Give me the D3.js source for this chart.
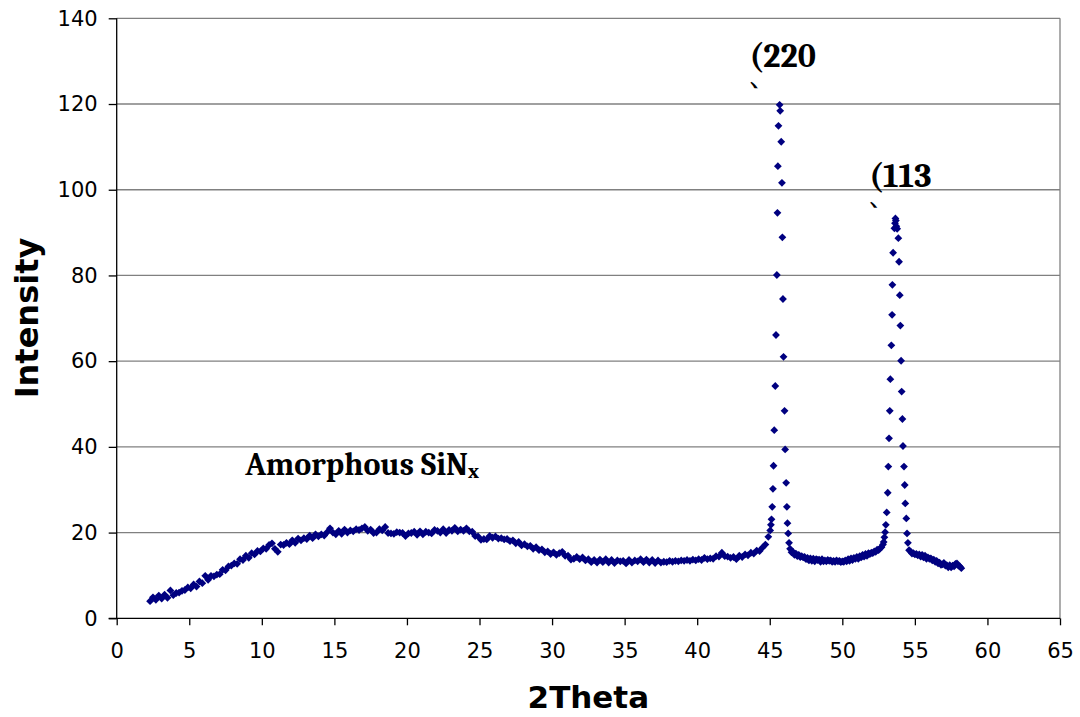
<!DOCTYPE html>
<html>
<head>
<meta charset="utf-8">
<script src="https://cdn.jsdelivr.net/npm/d3@7"></script>
<style>
    body { margin: 0; background: #fff; }
    text { font-family: Verdana, 'DejaVu Sans', sans-serif; }
    .serif { font-family: Cambria, Caladea, 'DejaVu Serif', serif; font-weight: bold; }
</style>
</head>
<body>
<div class="chart"></div>
<script>
// XRD scan
let xTicks = [0, 5, 10, 15, 20, 25, 30, 35, 40, 45, 50, 55, 60, 65];
let yTicks = [0, 20, 40, 60, 80, 100, 120, 140];

// broad amorphous part, 2Theta 2.3 .. 44.9, 0.2 deg step
let lowStart = 2.3, lowStep = 0.2;
let lowIntensity = [
    4.0, 4.9, 4.3, 5.3, 4.6, 5.5, 4.8, 6.5, 5.4, 5.9,
    6.0, 6.4, 6.6, 7.2, 7.0, 7.9, 7.4, 8.6, 8.2, 9.9,
    9.0, 9.9, 9.8, 10.2, 10.3, 11.3, 11.2, 12.1, 12.3, 12.8,
    12.7, 13.8, 13.6, 14.6, 14.1, 15.2, 14.9, 15.7, 15.6, 16.3,
    16.2, 17.1, 17.5, 16.2, 15.5, 17.2, 17.1, 17.6, 17.3, 18.2,
    17.6, 18.6, 18.2, 18.7, 18.5, 19.3, 18.7, 19.6, 19.1, 19.6,
    19.3, 20.1, 21.0, 20.0, 19.6, 20.4, 19.7, 20.7, 20.0, 20.5,
    20.3, 20.8, 20.6, 21.0, 21.3, 20.4, 20.7, 19.9, 20.0, 20.8,
    20.5, 21.3, 19.9, 19.8, 19.7, 20.1, 20.0, 19.9, 19.2, 19.8,
    19.9, 20.2, 19.5, 20.3, 19.6, 20.2, 20.0, 19.8, 20.6, 20.4,
    20.0, 20.8, 19.9, 20.6, 20.4, 21.1, 20.3, 20.7, 20.4, 21.0,
    20.3, 20.2, 19.2, 19.1, 18.3, 18.5, 18.4, 19.2, 18.8, 19.1,
    18.6, 18.7, 18.4, 18.5, 18.0, 18.2, 17.5, 17.8, 17.0, 17.3,
    16.8, 16.9, 16.2, 16.6, 15.9, 16.1, 15.4, 15.6, 15.0, 15.4,
    14.8, 15.2, 15.5, 14.6, 14.6, 13.7, 13.9, 14.3, 13.8, 14.2,
    13.5, 13.8, 13.1, 13.6, 13.0, 13.7, 13.1, 13.8, 13.0, 13.6,
    12.9, 13.5, 13.3, 13.4, 12.8, 13.6, 13.0, 13.5, 13.3, 13.8,
    13.1, 13.7, 13.0, 13.6, 12.9, 13.5, 13.0, 13.2, 13.1, 13.4,
    13.2, 13.4, 13.3, 13.5, 13.4, 13.6, 13.4, 13.7, 13.5, 13.8,
    13.6, 14.1, 13.8, 14.0, 13.9, 14.5, 14.4, 15.3, 14.5, 14.4,
    14.1, 14.3, 13.8, 14.6, 14.3, 14.9, 14.7, 15.3, 15.1, 15.8,
    15.7, 16.5, 17.2, 19.0
];

// (220) reflection
let peak220 = [
    [45.03, 20.5], [45.08, 21.8], [45.12, 23.1], [45.17, 26.0], [45.22, 30.2],
    [45.26, 35.6], [45.31, 43.9], [45.38, 54.2], [45.43, 66.1], [45.49, 80.1],
    [45.53, 94.6], [45.56, 105.5], [45.60, 114.9], [45.68, 119.8], [45.72, 118.4],
    [45.79, 111.2], [45.84, 101.6], [45.87, 88.9], [45.91, 74.5], [45.95, 61.0],
    [46.02, 48.4], [46.06, 39.4], [46.13, 31.6], [46.18, 26.0], [46.22, 22.2],
    [46.27, 19.8], [46.33, 17.6]
];

// between the two peaks, 46.4 .. 52.8, 0.1 deg step
let midStart = 46.4, midStep = 0.1;
let midIntensity = [
    16.2, 15.4, 15.5, 14.8, 15.1, 14.5, 14.8, 14.3, 14.5, 14.2,
    14.3, 13.8, 14.1, 13.5, 14.0, 13.4, 13.9, 13.3, 13.8, 13.6,
    13.7, 13.2, 13.8, 13.3, 13.5, 13.3, 13.6, 13.4, 13.5, 13.2,
    13.4, 13.2, 13.5, 13.3, 13.4, 13.1, 13.3, 13.2, 13.5, 13.3,
    13.8, 13.4, 14.0, 13.6, 14.1, 13.9, 14.3, 13.9, 14.5, 14.2,
    14.8, 14.4, 15.0, 14.6, 15.2, 15.0, 15.3, 15.2, 15.6, 15.5,
    16.0, 15.9, 16.3, 16.6, 17.2
];

// (113) reflection
let peak113 = [
    [52.85, 17.8], [52.90, 18.9], [52.95, 20.1], [53.00, 21.8], [53.06, 24.7],
    [53.13, 29.3], [53.17, 35.4], [53.22, 42.0], [53.27, 48.4], [53.31, 55.8],
    [53.38, 63.7], [53.43, 70.8], [53.45, 77.8], [53.50, 85.3], [53.59, 91.0],
    [53.63, 92.2], [53.66, 93.3], [53.69, 92.8], [53.72, 91.5], [53.78, 90.9],
    [53.86, 88.7], [53.91, 83.2], [53.96, 75.4], [54.00, 68.3], [54.05, 60.1],
    [54.09, 52.9], [54.14, 46.5], [54.18, 40.2], [54.25, 35.4], [54.30, 31.1],
    [54.34, 26.8], [54.41, 23.3], [54.46, 19.8], [54.52, 17.6], [54.60, 15.9]
];

// tail, 54.7 .. 58.2, 0.1 deg step
let highStart = 54.7, highStep = 0.1;
let highIntensity = [
    15.6, 15.1, 15.2, 14.9, 15.0, 14.7, 14.9, 14.4, 14.8, 14.2,
    14.6, 13.9, 14.2, 13.9, 14.0, 13.5, 13.7, 13.2, 13.4, 12.8,
    13.0, 12.5, 12.6, 12.9, 12.3, 12.4, 11.9, 12.4, 11.9, 12.3,
    12.1, 12.7, 12.8, 12.3, 12.1, 11.7
];

let width = 1080, height = 717;
let padding = {'left': 116.7, 'right': 20, 'top': 18.3, 'bottom': 98.7};

let stepped = (start, step, vals) => vals.map((v, i) => [+(start + i * step).toFixed(2), v]);
let points = [].concat(
    stepped(lowStart, lowStep, lowIntensity),
    peak220,
    stepped(midStart, midStep, midIntensity),
    peak113,
    stepped(highStart, highStep, highIntensity)
);

let svg = d3.select('.chart')
    .append('svg')
    .attr('width', width)
    .attr('height', height);

svg.append('rect').attr('width', width).attr('height', height).attr('fill', '#fff');

let x = d3.scaleLinear()
    .domain([0, 65])
    .range([padding.left, width - padding.right]);
let y = d3.scaleLinear()
    .domain([0, 140])
    .range([height - padding.bottom, padding.top]);

// grid lines
svg.append('g')
    .selectAll('line')
    .data(yTicks.slice(1))
    .enter().append('line')
    .attr('x1', x(0)).attr('x2', x(65))
    .attr('y1', d => y(d)).attr('y2', d => y(d))
    .attr('stroke', '#808080')
    .attr('stroke-width', 1.3);

// right border
svg.append('line')
    .attr('x1', x(65)).attr('x2', x(65))
    .attr('y1', y(0)).attr('y2', y(140))
    .attr('stroke', '#808080')
    .attr('stroke-width', 1.3);

// y axis
let axis_y = d3.axisLeft(y).tickValues(yTicks).tickSize(8).tickPadding(11);
let gy = svg.append('g')
    .attr('transform', `translate(${x(0)}, 0)`)
    .call(axis_y)
    .attr('font-family', null)
    .attr('font-size', 21);
gy.select('.domain').attr('d', `M0,${y(0)}V${y(140)}`).attr('stroke-width', 1.3);
gy.selectAll('.tick line').attr('stroke-width', 1.3);
gy.selectAll('.tick text').attr('fill', '#000');

// x axis
let axis_x = d3.axisBottom(x).tickValues(xTicks).tickSize(7).tickPadding(18);
let gx = svg.append('g')
    .attr('transform', `translate(0, ${y(0)})`)
    .call(axis_x)
    .attr('font-family', null)
    .attr('font-size', 21);
gx.select('.domain').attr('d', `M${x(0) - 8},0H${x(65)}`).attr('stroke-width', 1.3);
gx.selectAll('.tick line').attr('stroke-width', 1.3);
gx.selectAll('.tick text').attr('fill', '#000');

// axis titles
svg.append('text')
    .attr('x', x(32.5))
    .attr('y', 708)
    .attr('text-anchor', 'middle')
    .attr('font-size', 31)
    .attr('font-weight', 'bold')
    .text('2Theta');

svg.append('text')
    .attr('transform', `translate(38, 318) rotate(-90)`)
    .attr('text-anchor', 'middle')
    .attr('font-size', 32)
    .attr('font-weight', 'bold')
    .text('Intensity');

// points
let diamond = 'M0,-3.9L3.9,0L0,3.9L-3.9,0Z';
svg.append('g')
    .selectAll('path')
    .data(points)
    .enter().append('path')
    .attr('d', diamond)
    .attr('transform', d => `translate(${x(d[0])}, ${y(d[1])})`)
    .attr('fill', '#000080');

// annotations
let peakLabels = [
    {'text': '(220', 'at': [43.6, 128.6]},
    {'text': '(113', 'at': [51.85, 100.7]}
];
let defs = svg.append('defs');
peakLabels.forEach((p, i) => {
    let px = x(p.at[0]), py = y(p.at[1]);
    defs.append('clipPath')
        .attr('id', 'lab' + i)
        .append('rect')
        .attr('x', px - 5).attr('y', py - 45)
        .attr('width', 100).attr('height', 66);
    let g = svg.append('g').attr('clip-path', `url(#lab${i})`);
    g.append('text')
        .attr('class', 'serif')
        .attr('x', px).attr('y', py)
        .attr('font-size', 34)
        .text(p.text);
    g.append('text')
        .attr('class', 'serif')
        .attr('x', px).attr('y', py + 40)
        .attr('font-size', 34)
        .text(')');
});

let amo = svg.append('text')
    .attr('class', 'serif')
    .attr('x', x(8.85))
    .attr('y', y(33.4))
    .attr('font-size', 32);
amo.append('tspan').text('Amorphous SiN');
amo.append('tspan').attr('font-size', 21).attr('dy', 3).text('x');
</script>
</body>
</html>
